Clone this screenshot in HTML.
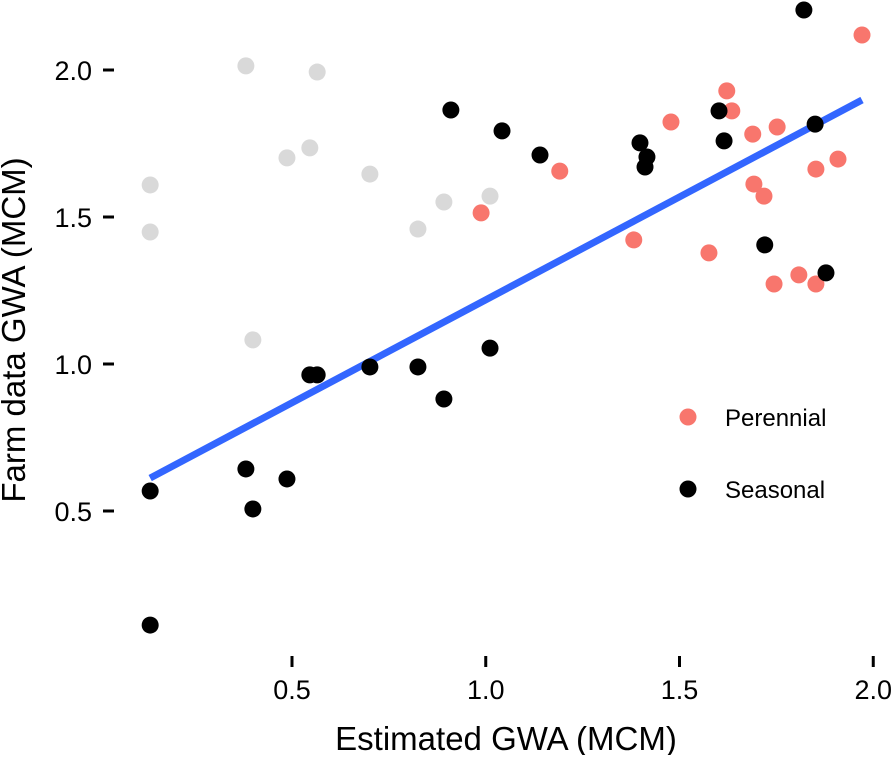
<!DOCTYPE html>
<html><head><meta charset="utf-8"><style>body{margin:0;background:#fff}svg{font-family:"Liberation Sans",sans-serif}</style></head>
<body>
<svg id="chart" width="893" height="755"></svg>
<script>
const grayX=[0.134,0.134,0.381,0.565,0.487,0.546,0.701,0.399,0.825,0.892,1.011];
const grayY=[1.609,1.449,2.014,1.993,1.701,1.735,1.646,1.082,1.459,1.551,1.571];
const perX=[0.988,1.191,1.382,1.478,1.576,1.622,1.635,1.689,1.692,1.718,1.752,1.744,1.808,1.852,1.852,1.909,1.971];
const perY=[1.514,1.656,1.422,1.823,1.378,1.929,1.861,1.782,1.612,1.571,1.806,1.272,1.303,1.663,1.272,1.697,2.119];
const seaX=[0.134,0.134,0.381,0.399,0.487,0.546,0.565,0.701,0.825,0.892,0.910,1.011,1.042,1.140,1.398,1.411,1.416,1.602,1.615,1.720,1.821,1.850,1.878];
const seaY=[0.568,0.112,0.643,0.507,0.609,0.963,0.963,0.990,0.990,0.881,1.864,1.054,1.793,1.711,1.752,1.670,1.704,1.861,1.759,1.405,2.204,1.816,1.310];
const fitX=[0.134,1.971];
const fitY=[0.612,1.898];
const xTicks=[0.5,1.0,1.5,2.0];
const yTicks=[0.5,1.0,1.5,2.0];
const sx=v=>98.25+v*387.5, sy=v=>658-v*294;
const svg=document.getElementById('chart'), NS='http://www.w3.org/2000/svg';
function mk(t,a){const e=document.createElementNS(NS,t);for(const k in a)e.setAttribute(k,a[k]);svg.appendChild(e);return e;}
function dots(X,Y,c,n){X.forEach((x,i)=>{const e=mk('circle',{cx:sx(x),cy:sy(Y[i]),r:8.5,fill:c});

});}
dots(grayX,grayY,'#d9d9d9','gray-point');
let ln=mk('line',{x1:sx(fitX[0]),y1:sy(fitY[0]),x2:sx(fitX[1]),y2:sy(fitY[1]),stroke:'#3366ff','stroke-width':7});


dots(perX,perY,'#f8766d','perennial-point');
dots(seaX,seaY,'#000','seasonal-point');
xTicks.forEach(v=>{let t=mk('line',{x1:sx(v),x2:sx(v),y1:656,y2:667,stroke:'#000','stroke-width':3});


let l=mk('text',{x:sx(v),y:699,'text-anchor':'middle','font-size':27});l.textContent=v.toFixed(1);

});
yTicks.forEach(v=>{let t=mk('line',{x1:103,x2:114,y1:sy(v),y2:sy(v),stroke:'#000','stroke-width':3});


let l=mk('text',{x:92,y:sy(v)+10,'text-anchor':'end','font-size':27});l.textContent=v.toFixed(1);

});
</script>
<svg width="893" height="755" style="position:absolute;left:0;top:0;font-family:'Liberation Sans',sans-serif">
<text x="506" y="750" text-anchor="middle" font-size="33">Estimated GWA (MCM)</text>
<text transform="translate(25,330) rotate(-90)" text-anchor="middle" font-size="33">Farm data GWA (MCM)</text>
<g><circle cx="688" cy="417" r="8.5" fill="#f8766d"/><text x="725" y="426" font-size="24">Perennial</text></g>
<g><circle cx="688" cy="489" r="8.5" fill="#000"/><text x="725" y="498" font-size="24">Seasonal</text></g>
</svg>
</body></html>
